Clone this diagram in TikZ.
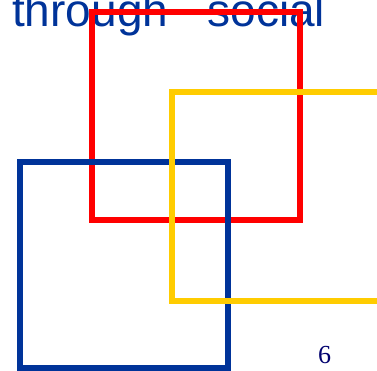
\documentclass[tikz,border=0pt]{standalone}
\usepackage{fontspec}
\setmainfont{Liberation Serif}
\newfontfamily\titlefont{Liberation Sans}

\definecolor{slideblue}{RGB}{0,51,153}
\definecolor{slidered}{RGB}{255,0,0}
\definecolor{slideyellow}{RGB}{255,204,0}
\definecolor{pagenavy}{RGB}{0,0,110}

\begin{document}
\begin{tikzpicture}[x=1pt, y=-1pt,
		frame/.style={line width=6pt, line join=miter},
	]
		\useasboundingbox (0, 0) rectangle (377, 371);
		\clip (0, 0) rectangle (377, 371);
		
		% title line, cut off at the top
		\node[anchor=base west, inner sep=0pt, text=slideblue,
			font=\titlefont\fontsize{46}{55}\selectfont] (title) at (12, 27)
			{through\hspace{39.4pt}social};
		
		% the three squares, back to front
		\draw[frame, slidered] (92, 12.5) rectangle (300, 220.5);
		\draw[frame, slideblue] (20, 162) rectangle (228, 368);
		\draw[frame, slideyellow] (172, 92.5) rectangle (380, 300.5);
		
		% page number
		\node[anchor=base, inner sep=0pt, text=pagenavy,
			font=\fontsize{26}{30}\selectfont] (pagenum) at (324.5, 363) {6};
	\end{tikzpicture}
\end{document}
